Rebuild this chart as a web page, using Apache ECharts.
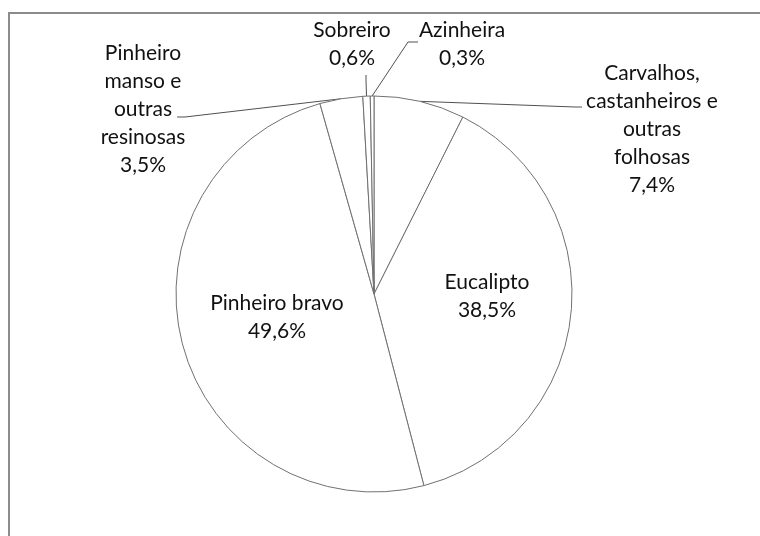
<!DOCTYPE html>
<html>
<head>
<meta charset="utf-8">
<script src="https://cdn.jsdelivr.net/npm/echarts@6/dist/echarts.min.js"></script>
<style>
  html, body { margin: 0; padding: 0; background: #fff; overflow: hidden; }
  #frame { position: absolute; left: 8px; top: 12px; width: 820px; height: 620px; border: 2px solid #8c8c8c; box-sizing: border-box; }
  #chart { position: absolute; left: 0; top: 0; width: 760px; height: 536px; }
</style>
</head>
<body>
<div id="frame"></div>
<div id="chart"></div>
<script>
// Data (percent of area), clockwise from 12 o'clock
const categories = [
  'Carvalhos,\ncastanheiros e\noutras\nfolhosas',
  'Eucalipto',
  'Pinheiro bravo',
  'Pinheiro\nmanso e\noutras\nresinosas',
  'Sobreiro',
  'Azinheira'
];
const values = [7.4, 38.5, 49.6, 3.5, 0.6, 0.3];
const insideLabels = [false, true, true, false, false, false];

// Label placement (text block centers) and leader-line routes
const labelCenters = [[652, 129], [487, 296], [277, 317], [143, 109], [352, 44], [462, 44]];
const leaderRoutes = [
  [[575, 107], [582, 107]],
  null,
  null,
  [[185, 117], [177, 117]],
  [[366, 80], [366, 75]],
  [[408, 42], [418, 42]]
];

const chart = echarts.init(document.getElementById('chart'), null, { renderer: 'canvas' });

const data = categories.map((name, i) => ({
  name: name,
  value: values[i],
  label: insideLabels[i] ? { position: 'inside' } : { position: 'outside' },
  labelLine: { show: !insideLabels[i] }
}));

chart.setOption({
  animation: false,
  backgroundColor: 'transparent',
  series: [{
    type: 'pie',
    center: [374, 294],
    radius: 198,
    startAngle: 90,
    clockwise: true,
    avoidLabelOverlap: false,
    data: data,
    itemStyle: { color: '#ffffff', borderColor: '#707070', borderWidth: 1 },
    emphasis: { disabled: true },
    label: {
      show: true,
      fontFamily: 'Lato',
      fontSize: 21,
      lineHeight: 28,
      color: '#111111',
      align: 'center',
      formatter: p => p.name + '\n' + p.value.toFixed(1).replace('.', ',') + '%'
    },
    labelLine: {
      show: true,
      length: 10,
      length2: 10,
      lineStyle: { color: '#505050', width: 1 }
    },
    labelLayout: function (params) {
      const i = params.dataIndex;
      const c = labelCenters[i];
      const out = { x: c[0], y: c[1], align: 'center', verticalAlign: 'middle' };
      const route = leaderRoutes[i];
      if (route && params.labelLinePoints) {
        const start = params.labelLinePoints[0];
        out.labelLinePoints = [start, route[0], route[1]];
      }
      return out;
    }
  }]
});
</script>
</body>
</html>
